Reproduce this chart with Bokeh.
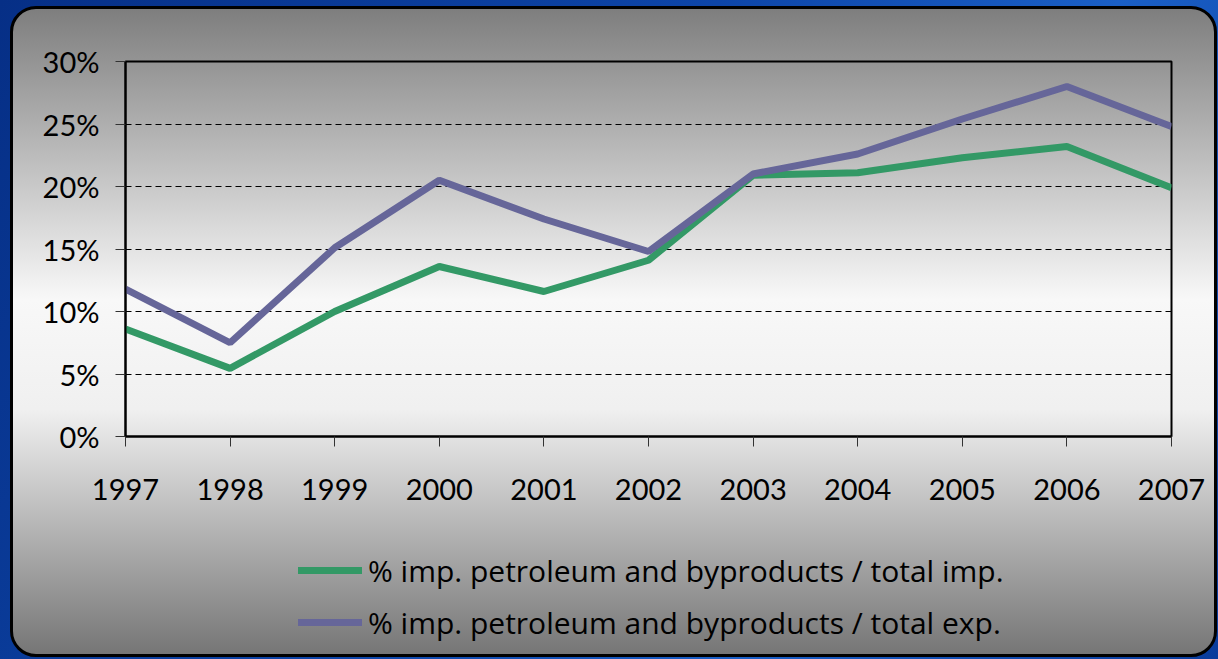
from bokeh.plotting import figure
from bokeh.layouts import column
from bokeh.models import Range1d, FixedTicker, PrintfTickFormatter, Legend, LegendItem
from bokeh.embed import file_html
from bokeh.resources import INLINE

years = [1997, 1998, 1999, 2000, 2001, 2002, 2003, 2004, 2005, 2006, 2007]
share_of_total_imp = [8.6, 5.45, 10.0, 13.6, 11.6, 14.1, 20.9, 21.1, 22.3, 23.2, 19.9]
share_of_total_exp = [11.8, 7.5, 15.1, 20.5, 17.4, 14.8, 21.0, 22.6, 25.4, 28.0, 24.8]
y_ticks = [0, 5, 10, 15, 20, 25, 30]
series_labels = ["% imp. petroleum and byproducts / total imp.",
                 "% imp. petroleum and byproducts / total exp."]
series_colors = ["#339966", "#666699"]

FONT = "Lato"
LEGEND_FONT = "Open Sans"

# ---- main chart -------------------------------------------------------------
p = figure(width=1201, height=521,
           x_range=Range1d(1997, 2007), y_range=Range1d(0, 30),
           output_backend="svg", toolbar_location=None, tools="",
           min_border_left=112, min_border_right=43, min_border_top=52, min_border_bottom=94,
           background_fill_color=None, border_fill_color=None,
           outline_line_color="black", outline_line_width=2)

r1 = p.line(years, share_of_total_imp, line_color=series_colors[0], line_width=7)
r2 = p.line(years, share_of_total_exp, line_color=series_colors[1], line_width=7)

p.xaxis.ticker = FixedTicker(ticks=years)
p.yaxis.ticker = FixedTicker(ticks=y_ticks)
p.yaxis.formatter = PrintfTickFormatter(format="%d%%")
for ax in (p.xaxis[0], p.yaxis[0]):
    ax.axis_line_color = "black"
    ax.axis_line_width = 2
    ax.major_tick_in = 0
    ax.major_tick_out = 10
    ax.major_tick_line_color = "#333333"
    ax.minor_tick_line_color = None
    ax.major_label_text_font = FONT
    ax.major_label_text_font_size = "29px"
    ax.major_label_text_color = "black"
p.xaxis.major_label_standoff = 32
p.yaxis.major_label_standoff = 16

p.xgrid.grid_line_color = None
p.ygrid.grid_line_color = "black"
p.ygrid.grid_line_dash = "6 4"
p.ygrid.grid_line_width = 1

# ---- legend strip below the chart -------------------------------------------
pl = figure(width=1201, height=124, x_range=Range1d(0, 1), y_range=Range1d(0, 1),
            output_backend="svg", toolbar_location=None, tools="",
            x_axis_location=None, y_axis_location=None,
            min_border_left=0, min_border_right=0, min_border_top=0, min_border_bottom=0,
            background_fill_color=None, border_fill_color=None, outline_line_color=None)
pl.xgrid.grid_line_color = None
pl.ygrid.grid_line_color = None
# hidden copies of the series: they only provide the legend swatches
k1 = pl.line(years, share_of_total_imp, line_color=series_colors[0], line_width=7,
             line_cap="round", visible=False)
k2 = pl.line(years, share_of_total_exp, line_color=series_colors[1], line_width=7,
             line_cap="round", visible=False)

legend = Legend(items=[LegendItem(label=series_labels[0], renderers=[k1]),
                       LegendItem(label=series_labels[1], renderers=[k2])],
                location=(173, 6), orientation="vertical")
legend.background_fill_alpha = 0
legend.border_line_alpha = 0
legend.padding = 0
legend.margin = 0
legend.glyph_width = 64
legend.glyph_height = 52
legend.label_height = 52
legend.spacing = 0
legend.label_standoff = 6
legend.label_text_font = LEGEND_FONT
legend.label_text_font_size = "30px"
legend.label_text_color = "black"
pl.add_layout(legend)

panel = column(p, pl, margin=(6, 1, 2, 10), spacing=0,
               styles={"background": "linear-gradient(180deg, #7e7e7e 0%, #f8f8f8 45%, #f0f0f0 62%, #767676 100%)",
                       "border": "3px solid black",
                       "border-radius": "26px"})

layout = column(panel, styles={"background": "linear-gradient(120deg, #062f86 0%, #0d45a8 45%, #1a5fc6 70%, #0a3c9c 100%)"})

open("out.html", "w").write(file_html(layout, INLINE))
